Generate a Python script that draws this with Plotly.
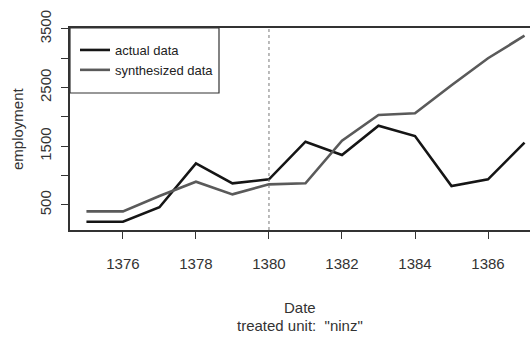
import plotly.graph_objects as go

years = list(range(1375, 1388))
actual = [215, 215, 461, 1210, 869, 937, 1578, 1352, 1851, 1675, 824, 937, 1562]
synthesized = [392, 392, 653, 897, 681, 852, 869, 1596, 2033, 2062, 2540, 3000, 3384]
treatment_year = 1380
x_ticks = [1376, 1378, 1380, 1382, 1384, 1386]
y_ticks = [500, 1000, 1500, 2000, 2500, 3000, 3500]
y_labels = ["500", "", "1500", "", "2500", "", "3500"]

FONT = "Liberation Sans Narrow, Arial Narrow, Liberation Sans, Arial, sans-serif"

W, H = 530, 337
ML, MT, MB = 70, 28, 107
plot_w = W - ML
plot_h = H - MT - MB


def px_x(px):
    """paper x from a pixel column"""
    return (px - ML) / plot_w


def px_y(py):
    """paper y from a pixel row"""
    return (H - MB - py) / plot_h


fig = go.Figure()
fig.add_trace(go.Scatter(x=years, y=actual, mode="lines", name="actual data",
                         line=dict(color="#151515", width=2.6)))
fig.add_trace(go.Scatter(x=years, y=synthesized, mode="lines", name="synthesized data",
                         line=dict(color="#5a5a5a", width=2.6)))

# treatment date marker
fig.add_shape(type="line", x0=treatment_year, x1=treatment_year, y0=0, y1=1,
              xref="x", yref="paper", line=dict(color="#777777", width=1, dash="dot"))

# legend frame
fig.add_shape(type="rect", xref="paper", yref="paper",
              x0=px_x(70), x1=px_x(219), y0=px_y(93), y1=px_y(28),
              line=dict(color="#333333", width=1.2), fillcolor="white", layer="below")

fig.update_layout(
    width=W, height=H,
    margin=dict(l=ML, r=0, t=MT, b=MB),
    paper_bgcolor="white", plot_bgcolor="white",
    font=dict(family=FONT, size=15, color="#333333"),
    legend=dict(x=px_x(75), y=px_y(35), xanchor="left", yanchor="top",
                borderwidth=0, bgcolor="rgba(0,0,0,0)",
                font=dict(size=13, color="#222222"), itemwidth=30,
                tracegroupgap=0),
    xaxis=dict(range=[1374.55, 1387.15], tickvals=x_ticks, showgrid=False,
               zeroline=False, showline=True, linecolor="#333333", linewidth=1.5,
               mirror=True, ticks="outside", ticklen=7, tickcolor="#333333",
               ticklabelstandoff=12),
    yaxis=dict(range=[74, 3515], tickvals=y_ticks, ticktext=y_labels, tickangle=-90,
               showgrid=False, zeroline=False, showline=True, linecolor="#333333",
               linewidth=1.5, ticks="outside", ticklen=7, tickcolor="#333333",
               ticklabelstandoff=4),
    annotations=[
        dict(text="Date", x=0.5, y=px_y(307), xref="paper", yref="paper",
             yanchor="middle", showarrow=False),
        dict(text="treated unit:  \"ninz\"", x=0.5, y=px_y(325), xref="paper",
             yref="paper", yanchor="middle", showarrow=False),
        dict(text="employment", x=px_x(17), y=0.5, xref="paper", yref="paper",
             xanchor="center", showarrow=False, textangle=-90),
    ],
)

fig.write_html("out.html")
